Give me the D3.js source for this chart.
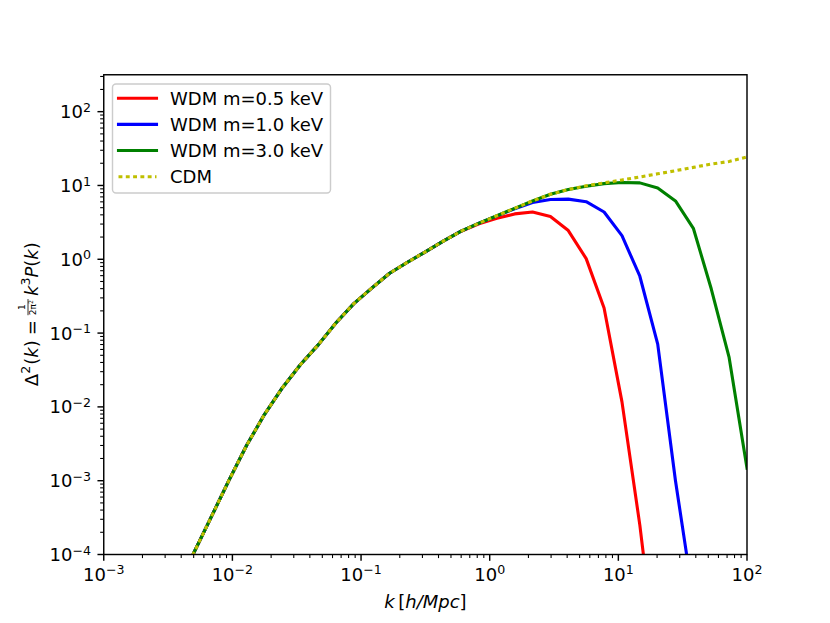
<!DOCTYPE html>
<html><head><meta charset="utf-8">
<script src="https://cdn.jsdelivr.net/npm/d3@7"></script>
<style>body{margin:0;background:#fff}svg{display:block}text{font-family:"DejaVu Sans",sans-serif;fill:#000}</style>
</head><body>
<svg id="c" width="830" height="623"></svg>
<script>
// wavenumber k [h/Mpc]
const kValues = [0.003594,0.004942,0.006808,0.009376,0.01291,0.01778,0.02449,0.03373,0.04645,0.06397,
  0.0879,0.1211,0.1667,0.2296,0.3162,0.4355,0.5998,0.8260,1.138,1.563,2.153,2.965,4.083,5.623,7.745,
  10.67,14.69,20.23,27.80,38.28,52.72,72.61,100];
// Delta^2(k) for each model
const cdm = [3.55e-5,1.0e-4,3.16e-4,1.0e-3,3.02e-3,7.94e-3,1.82e-2,3.72e-2,6.92e-2,0.138,
  0.251,0.407,0.646,0.912,1.26,1.76,2.40,3.09,3.89,4.90,6.17,7.59,8.81,9.89,10.84,
  11.89,13.03,14.39,15.85,17.58,19.50,21.13,24.27];
const wdm05 = [3.55e-5,1.0e-4,3.16e-4,1.0e-3,3.02e-3,7.94e-3,1.82e-2,3.72e-2,6.92e-2,0.138,
  0.251,0.407,0.646,0.912,1.26,1.76,2.40,3.02,3.59,4.12,4.37,3.80,2.45,1.02,0.219,
  0.0117,2.5e-4,2.5e-6,null,null,null,null,null];
const wdm10 = [3.55e-5,1.0e-4,3.16e-4,1.0e-3,3.02e-3,7.94e-3,1.82e-2,3.72e-2,6.92e-2,0.138,
  0.251,0.407,0.646,0.912,1.26,1.76,2.40,3.09,3.88,4.84,5.89,6.46,6.53,6.03,4.37,
  2.09,0.589,0.0708,1.0e-3,2.5e-5,null,null,null];
const wdm30 = [3.55e-5,1.0e-4,3.16e-4,1.0e-3,3.02e-3,7.94e-3,1.82e-2,3.72e-2,6.92e-2,0.138,
  0.251,0.407,0.646,0.912,1.26,1.76,2.40,3.09,3.89,4.90,6.17,7.59,8.81,9.77,10.59,
  10.96,10.84,9.23,6.17,2.63,0.398,0.0468,1.48e-3];
const seriesNames = ["WDM m=0.5 keV","WDM m=1.0 keV","WDM m=3.0 keV","CDM"];
const seriesColors = ["#ff0000","#0000ff","#008000","#bfbf00"];
const xTickExps = [-3,-2,-1,0,1,2];
const yTickExps = [-4,-3,-2,-1,0,1,2];
const xDomain = [1e-3, 1e2];
const yDomain = [1e-4, Math.pow(10, 2.5)];

const svg = d3.select("#c");
const L = 103.75, R = 747, T = 74.76, B = 554.5;
const x = d3.scaleLog().domain(xDomain).range([L, R]);
const y = d3.scaleLog().domain(yDomain).range([B, T]);

svg.append("clipPath").attr("id","clip").append("rect")
  .attr("x", L).attr("y", T).attr("width", R-L).attr("height", B-T);

const series = [wdm05, wdm10, wdm30, cdm];
const line = d3.line().defined(d => d[1] != null).x(d => x(d[0])).y(d => y(d[1]));
const plot = svg.append("g").attr("clip-path","url(#clip)");
series.forEach((s, i) => {
  const pts = kValues.map((k, j) => [k, s[j]]);
  const p = plot.append("path").datum(pts).attr("d", line)
    .attr("fill","none").attr("stroke", seriesColors[i]).attr("stroke-width", 3.1)
    .attr("stroke-linejoin","round");
  if (i === 3) p.attr("stroke-dasharray","3.9,3.4").attr("stroke-linecap","butt");
  else p.attr("stroke-linecap","square");
});

// ticks
const g = svg.append("g");
function minorTicks(domain) {
  const out = [];
  const lo = Math.floor(Math.log10(domain[0])), hi = Math.ceil(Math.log10(domain[1]));
  for (let d = lo; d <= hi; d++) for (let m = 2; m <= 9; m++) {
    const v = m * Math.pow(10, d);
    if (v > domain[0] && v < domain[1]) out.push(v);
  }
  return out;
}
minorTicks(xDomain).forEach(v => g.append("line").attr("x1", x(v)).attr("x2", x(v))
  .attr("y1", B).attr("y2", B+3.6).attr("stroke","#000").attr("stroke-width",1.08));
minorTicks(yDomain).forEach(v => g.append("line").attr("y1", y(v)).attr("y2", y(v))
  .attr("x1", L).attr("x2", L-3.6).attr("stroke","#000").attr("stroke-width",1.08));
xTickExps.forEach(e => {
  const v = Math.pow(10, e);
  g.append("line").attr("x1", x(v)).attr("x2", x(v)).attr("y1", B).attr("y2", B+6.3)
    .attr("stroke","#000").attr("stroke-width",1.44);
  const t = g.append("text").attr("x", x(v)).attr("y", 580.7).attr("text-anchor","middle")
    .style("font-size","18px");
  t.append("tspan").text("10");
  t.append("tspan").attr("dy", -6.5).style("font-size","12.6px").text(String(e).replace("-","\u2212"));
});
yTickExps.forEach(e => {
  const v = Math.pow(10, e);
  g.append("line").attr("y1", y(v)).attr("y2", y(v)).attr("x1", L).attr("x2", L-6.3)
    .attr("stroke","#000").attr("stroke-width",1.44);
  const t = g.append("text").attr("x", 91).attr("y", y(v)+6.6).attr("text-anchor","end")
    .style("font-size","18px");
  t.append("tspan").text("10");
  t.append("tspan").attr("dy", -6.5).style("font-size","12.6px").text(String(e).replace("-","\u2212"));
});

// frame
svg.append("rect").attr("x", L).attr("y", T).attr("width", R-L).attr("height", B-T)
  .attr("fill","none").attr("stroke","#000").attr("stroke-width",1.44);

// x label
const xl = svg.append("text").attr("x", (L+R)/2).attr("y", 608).attr("text-anchor","middle")
  .style("font-size","18px");
xl.append("tspan").style("font-style","italic").text("k");
xl.append("tspan").text("\u2009[");
xl.append("tspan").style("font-style","italic").text("h/Mpc");
xl.append("tspan").text("]");

// y label (rotated)
const ylOuter = svg.append("g").attr("transform","translate(38.3,314.2) rotate(-90)");
const yl = ylOuter.append("g");
let cx = 0;
function piece(str, o) {
  o = o || {};
  const t = yl.append("text").attr("x", o.x != null ? o.x : cx).attr("y", o.y || 0)
    .style("font-size", (o.size || 18) + "px")
    .style("font-style", o.it ? "italic" : "normal").text(str);
  const w = t.node().getComputedTextLength();
  if (!o.noAdv) cx += w;
  return w;
}
piece("\u0394");
piece("2", {size: 12.6, y: -8});
cx += 1;
piece("(");
piece("k", {it: true});
piece(")");
cx += 5;
piece("=");
cx += 5;
// fraction
const fx = cx;
const wd1 = piece("2\u03c0", {size: 9, y: -2.3, noAdv: true});
const wd2 = piece("2", {size: 6.3, y: -5.3, x: fx + wd1, noAdv: true});
const fw = wd1 + wd2 + 1;
const wn = piece("1", {size: 9, y: -13.3, x: 0, noAdv: true});
yl.selectAll("text").filter(function(){ return this.textContent === "1"; })
  .attr("x", fx + (fw - wn) / 2);
yl.append("line").attr("x1", fx).attr("x2", fx + fw).attr("y1", -10.3).attr("y2", -10.3)
  .attr("stroke","#000").attr("stroke-width", 0.8);
cx += fw + 3;
piece("k", {it: true});
piece("3", {size: 12.6, y: -8});
piece("P", {it: true});
piece("(");
piece("k", {it: true});
piece(")");
yl.attr("transform", `translate(${-cx/2},0)`);

// legend
const lg = svg.append("g");
lg.append("rect").attr("x", 112.5).attr("y", 84).attr("width", 218).attr("height", 109)
  .attr("rx", 3.5).attr("fill","#fff").attr("fill-opacity",0.8)
  .attr("stroke","#cccccc").attr("stroke-width",1.44);
const rowY = [98.3, 124.4, 150.5, 176.8];
seriesNames.forEach((n, i) => {
  const ln = lg.append("line").attr("x1", 118.5).attr("x2", 156.5).attr("y1", rowY[i]).attr("y2", rowY[i])
    .attr("stroke", seriesColors[i]).attr("stroke-width", 3.1);
  if (i === 3) ln.attr("stroke-dasharray","3.9,3.4");
  else ln.attr("stroke-linecap","square");
  lg.append("text").attr("x", 170).attr("y", rowY[i] + 6.5).style("font-size","18px").text(n);
});
</script>
</body></html>
